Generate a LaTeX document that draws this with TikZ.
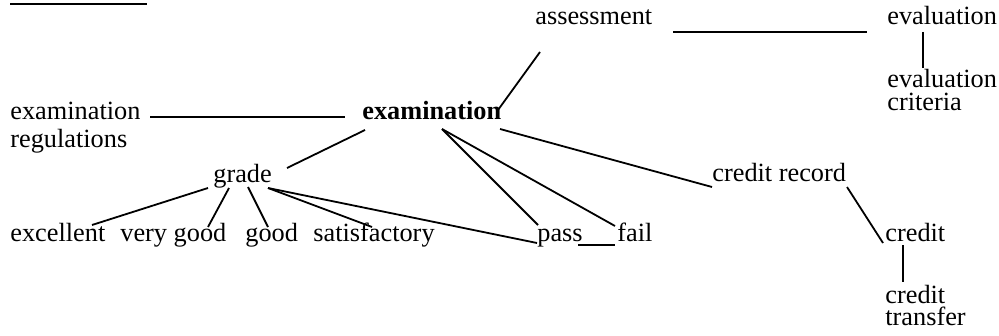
\documentclass[tikz,border=0pt]{standalone}
\usepackage{fontspec}
\setmainfont{Liberation Serif}
\usepackage{tikz}

\begin{document}
\begin{tikzpicture}[
  x=0.5pt, y=-0.5pt,
  every node/.style={inner sep=0pt, anchor=base west, align=left,
    font=\fontsize{13.15}{14}\selectfont},
  link/.style={line width=0.9pt}
]
\useasboundingbox (0,0) rectangle (999,336);
\draw[line width=0.8pt] (10,4) -- (147,4);

% terms (two-line terms sit on the baseline of their last line)
\node (assess)   at (535,25)  {assessment};
\node (eval)     at (887,25)  {evaluation};
\node (evalcrit) at (887,111) {evaluation\\[-2.5pt]criteria};
\node (examreg)  at (10,148)  {examination\\regulations};
\node (exam)     at (362,120) {\bfseries examination};
\node (grade)    at (213,183) {grade};
\node (record)   at (712,182) {credit record};
\node (exc)      at (10,242)  {excellent};
\node (vgood)    at (120,242) {very good};
\node (good)     at (245,242) {good};
\node (satis)    at (313,242) {satisfactory};
\node (pass)     at (537,242) {pass};
\node (fail)     at (617,242) {fail};
\node (credit)   at (885,242) {credit};
\node (transfer) at (885,325) {credit\\[-3pt]transfer};

% links
\draw[link] ([shift={(140,-31)}]examreg.base west) -- ([shift={(-17,-3)}]exam.base west);
\draw[link] ([shift={(5,27)}]assess.base west) -- ([shift={(136,-10)}]exam.base west);
\draw[link] ([shift={(138,7)}]assess.base west) -- ([shift={(-20,7)}]eval.base west);
\draw[link] ([shift={(36,7)}]eval.base west) -- ([shift={(36,-43)}]evalcrit.base west);
\draw[link] ([shift={(3,10)}]exam.base west) -- ([shift={(74,-15)}]grade.base west);
\draw[link] ([shift={(80,9)}]exam.base west) -- ([shift={(1,-17)}]pass.base west);
\draw[link] ([shift={(80,9)}]exam.base west) -- ([shift={(-2,-16)}]fail.base west);
\draw[link] ([shift={(138,9)}]exam.base west) -- ([shift={(0,5)}]record.base west);
\draw[link] ([shift={(-5,5)}]grade.base west) -- ([shift={(82,-17)}]exc.base west);
\draw[link] ([shift={(16,5)}]grade.base west) -- ([shift={(88,-15)}]vgood.base west);
\draw[link] ([shift={(35,4)}]grade.base west) -- ([shift={(23,-15)}]good.base west);
\draw[link] ([shift={(55,5)}]grade.base west) -- ([shift={(59,-15)}]satis.base west);
\draw[link] ([shift={(55,5)}]grade.base west) -- ([shift={(0,1)}]pass.base west);
\draw[link] ([shift={(41,3)}]pass.base west) -- ([shift={(-2,3)}]fail.base west);
\draw[link] ([shift={(135,5)}]record.base west) -- ([shift={(-2,1)}]credit.base west);
\draw[link] ([shift={(18,3)}]credit.base west) -- ([shift={(18,-43)}]transfer.base west);
\end{tikzpicture}
\end{document}
